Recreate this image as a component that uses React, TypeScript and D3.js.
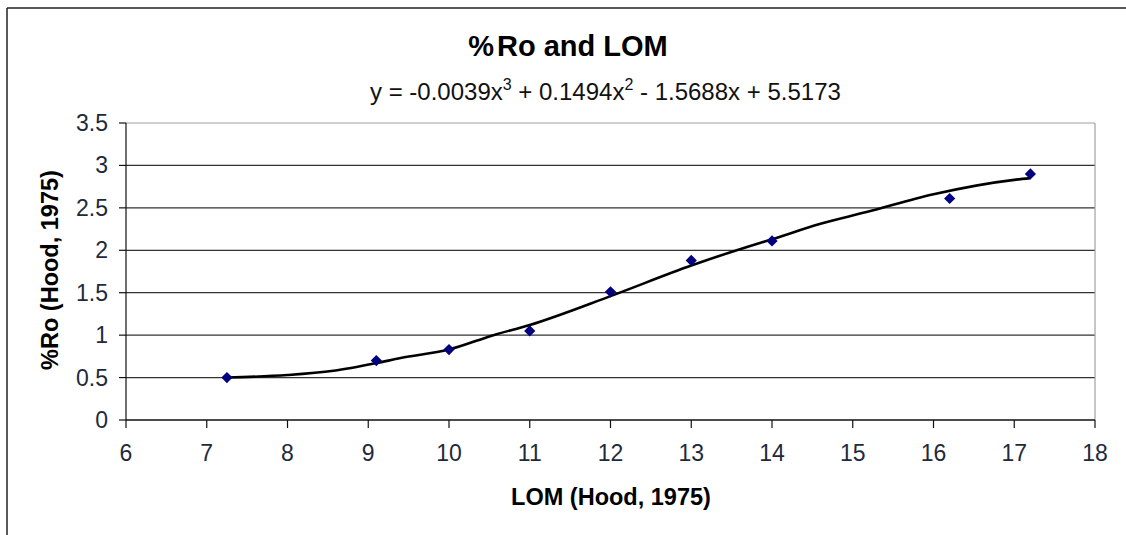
import React from "react";
import * as d3 from "d3";

const lomValues = [7.25, 9.1, 10, 11, 12, 13, 14, 16.2, 17.2];
const roValues = [0.5, 0.7, 0.83, 1.05, 1.51, 1.88, 2.11, 2.61, 2.9];

// trendline
const trendX = [7.25, 8.0, 8.57, 9.1, 9.4, 10.0, 10.55, 11.0, 12.0, 13.0, 13.69, 14.0, 14.59, 15.17, 16.0, 17.0, 17.2];
const trendY = [0.5, 0.53, 0.58, 0.67, 0.73, 0.83, 1.0, 1.12, 1.46, 1.82, 2.04, 2.13, 2.31, 2.45, 2.66, 2.83, 2.85];

const xTicks = [6, 7, 8, 9, 10, 11, 12, 13, 14, 15, 16, 17, 18];
const yTicks = [0, 0.5, 1, 1.5, 2, 2.5, 3, 3.5];
const yTickLabels = ["0", "0.5", "1", "1.5", "2", "2.5", "3", "3.5"];

const title = "%Ro and LOM";
const xTitle = "LOM (Hood, 1975)";
const yTitle = "%Ro (Hood, 1975)";

const W = 1126;
const H = 535;
const L = 126, R = 1095, T = 123, B = 420;
const FONT = "'Liberation Sans', Arial, sans-serif";

export default function App() {
  const x = d3.scaleLinear().domain([6, 18]).range([L, R]);
  const y = d3.scaleLinear().domain([0, 3.5]).range([B, T]);

  const trend = trendX.map((v, i) => [v, trendY[i]] as [number, number]);
  const line = d3
    .line<[number, number]>()
    .x((d) => x(d[0]))
    .y((d) => y(d[1]))
    .curve(d3.curveMonotoneX);

  const diamond = d3.symbol().type(d3.symbolDiamond2).size(80)();

  return (
    <svg
      width={W}
      height={H}
      style={{ position: "absolute", left: 0, top: 0, background: "#fff" }}
      fontFamily={FONT}
    >
      <rect x={0} y={0} width={W} height={H} fill="#fff" />
      {/* outer chart frame */}
      <line x1={7} y1={8} x2={W} y2={8} stroke="#222" strokeWidth={1.5} />
      <line x1={7} y1={8} x2={7} y2={H} stroke="#222" strokeWidth={1.5} />

      {/* gridlines */}
      {yTicks
        .filter((t) => t > 0 && t < 3.5)
        .map((t) => (
          <line key={"g" + t} x1={L} x2={R} y1={y(t)} y2={y(t)} stroke="#333" strokeWidth={1.2} />
        ))}
      {/* plot-area border (top/right) */}
      <line x1={L} x2={R} y1={T} y2={T} stroke="#a0a0a0" strokeWidth={1.2} />
      <line x1={R} x2={R} y1={T} y2={B} stroke="#a0a0a0" strokeWidth={1.2} />

      {/* axes */}
      <line x1={L} x2={L} y1={T} y2={B} stroke="#111" strokeWidth={1.2} />
      <line x1={L} x2={R} y1={B} y2={B} stroke="#111" strokeWidth={1.5} />
      {yTicks.map((t) => (
        <line key={"yt" + t} x1={L - 7} x2={L} y1={y(t)} y2={y(t)} stroke="#111" strokeWidth={1.2} />
      ))}
      {xTicks.map((t) => (
        <line key={"xt" + t} x1={x(t)} x2={x(t)} y1={B} y2={B + 8} stroke="#111" strokeWidth={1.2} />
      ))}

      {/* tick labels */}
      {yTicks.map((t, i) => (
        <text key={"yl" + t} x={L - 18} y={y(t) + 8} textAnchor="end" fontSize={23} fill="#1e2a3a">
          {yTickLabels[i]}
        </text>
      ))}
      {xTicks.map((t) => (
        <text key={"xl" + t} x={x(t)} y={461} textAnchor="middle" fontSize={23} fill="#1e2a3a">
          {t}
        </text>
      ))}

      {/* trendline */}
      <path d={line(trend) || ""} fill="none" stroke="#000" strokeWidth={2.6} />

      {/* data points */}
      {lomValues.map((v, i) => (
        <path key={"p" + i} d={diamond || ""} transform={`translate(${x(v)},${y(roValues[i])})`} fill="#000080" />
      ))}

      {/* titles */}
      <text x={568} y={56} textAnchor="middle" fontSize={29} fontWeight="bold" fill="#000">
        <tspan>%</tspan>
        <tspan dx={3}>Ro and LOM</tspan>
      </text>
      <text x={370} y={100} fontSize={24} fill="#111">
        <tspan>y = -0.0039x</tspan>
        <tspan dy={-10} fontSize={16}>3</tspan>
        <tspan dy={10}> + 0.1494x</tspan>
        <tspan dy={-10} fontSize={16}>2</tspan>
        <tspan dy={10}> - 1.5688x + 5.5173</tspan>
      </text>
      <text x={611} y={505} textAnchor="middle" fontSize={23.5} fontWeight="bold" fill="#000">
        {xTitle}
      </text>
      <text
        transform="translate(58,270) rotate(-90)"
        textAnchor="middle"
        fontSize={23.5}
        fontWeight="bold"
        fill="#000"
      >
        {yTitle}
      </text>
    </svg>
  );
}
